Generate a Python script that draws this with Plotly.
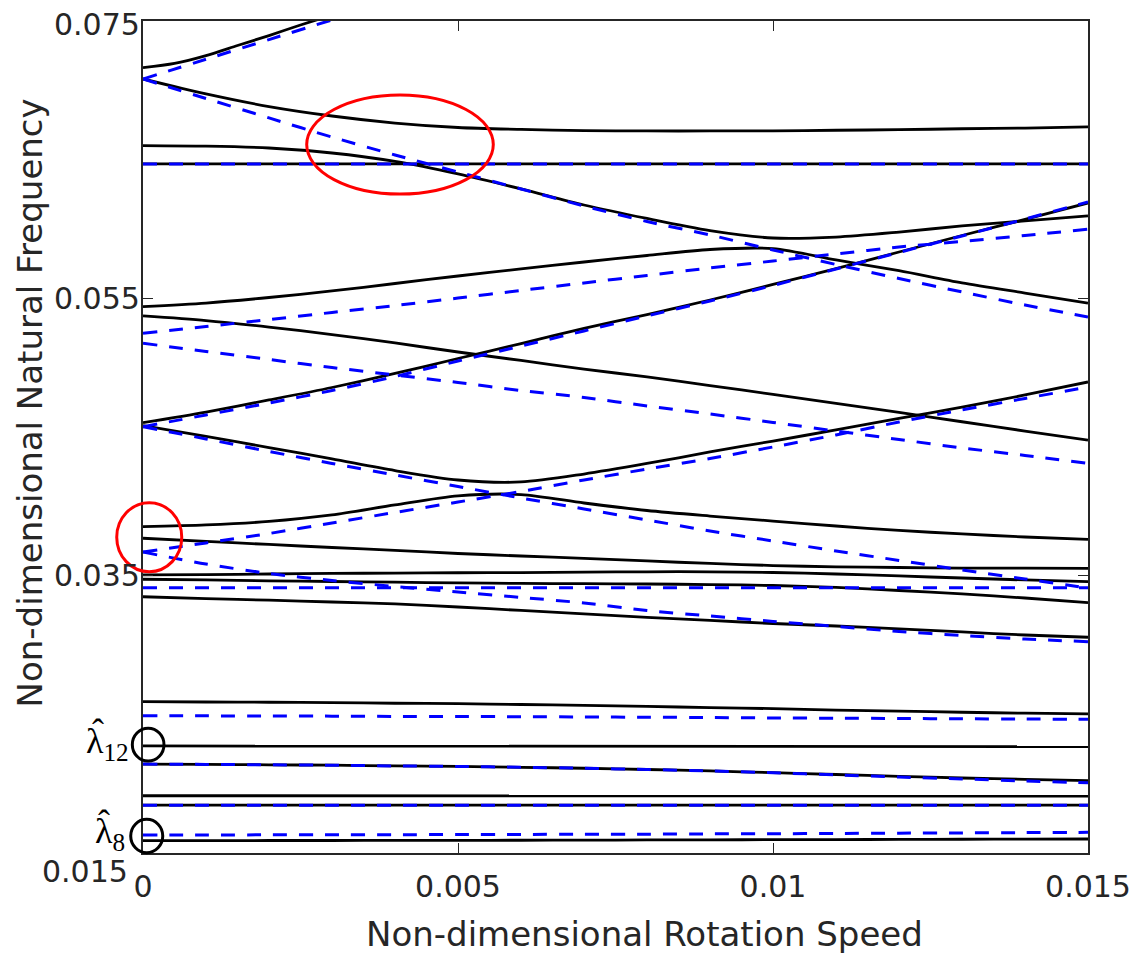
import plotly.graph_objects as go

# Non-dimensional rotation speed samples
speed = [0.0, 0.001, 0.002, 0.003, 0.004, 0.005, 0.006, 0.007, 0.008,
         0.009, 0.010, 0.011, 0.012, 0.013, 0.014, 0.015]
speed_ends = [0.0, 0.015]

# ---- solid branches (natural frequencies, model A) ----
solid_top_x = [0.0, 0.0005, 0.001, 0.0015, 0.002, 0.0025, 0.003]
solid_top = [0.07163, 0.07194, 0.07251, 0.07323, 0.07395, 0.07471, 0.07543]

solid_1 = [0.07082, 0.06974, 0.06883, 0.06815, 0.06764, 0.06732, 0.06718, 0.06710,
           0.06707, 0.06707, 0.06708, 0.06712, 0.06716, 0.06723, 0.06728, 0.06736]
solid_2 = [0.06601, 0.06597, 0.06584, 0.06548, 0.06487, 0.06397, 0.06289, 0.06173,
           0.06076, 0.05989, 0.05935, 0.05942, 0.05978, 0.06022, 0.06058, 0.06094]
solid_flat_1 = [0.06469, 0.06469]
solid_3 = [0.05440, 0.05466, 0.05506, 0.05553, 0.05607, 0.05661, 0.05712, 0.05762,
           0.05809, 0.05852, 0.05859, 0.05777, 0.05699, 0.05611, 0.05538, 0.05466]
solid_4 = [0.05373, 0.05340, 0.05293, 0.05239, 0.05178, 0.05113, 0.05052, 0.04990,
           0.04933, 0.04871, 0.04807, 0.04742, 0.04677, 0.04610, 0.04543, 0.04478]
solid_5 = [0.04603, 0.04680, 0.04767, 0.04857, 0.04958, 0.05066, 0.05174, 0.05283,
           0.05383, 0.05488, 0.05600, 0.05715, 0.05834, 0.05953, 0.06069, 0.06188]
solid_6 = [0.04582, 0.04504, 0.04424, 0.04342, 0.04258, 0.04190, 0.04176, 0.04233,
           0.04309, 0.04392, 0.04471, 0.04551, 0.04634, 0.04716, 0.04803, 0.04897]
solid_7 = [0.03853, 0.03866, 0.03891, 0.03938, 0.04010, 0.04075, 0.04085, 0.04024,
           0.03970, 0.03930, 0.03894, 0.03858, 0.03826, 0.03801, 0.03779, 0.03762]
solid_8 = [0.03770, 0.03747, 0.03725, 0.03703, 0.03682, 0.03660, 0.03642, 0.03624,
           0.03606, 0.03588, 0.03573, 0.03564, 0.03559, 0.03555, 0.03554, 0.03553]
solid_9 = [0.03505, 0.03508, 0.03512, 0.03516, 0.03519, 0.03521, 0.03522, 0.03525,
           0.03528, 0.03528, 0.03523, 0.03512, 0.03498, 0.03483, 0.03469, 0.03457]
solid_10 = [0.03474, 0.03469, 0.03463, 0.03458, 0.03453, 0.03448, 0.03444, 0.03442,
            0.03440, 0.03436, 0.03429, 0.03415, 0.03393, 0.03368, 0.03339, 0.03305]
solid_11 = [0.03348, 0.03335, 0.03323, 0.03310, 0.03296, 0.03274, 0.03249, 0.03224,
            0.03199, 0.03177, 0.03155, 0.03137, 0.03116, 0.03094, 0.03072, 0.03056]
solid_12 = [0.02591, 0.02589, 0.02587, 0.02584, 0.02580, 0.02577, 0.02571, 0.02565,
            0.02557, 0.02549, 0.02541, 0.02531, 0.02523, 0.02515, 0.02508, 0.02503]
solid_13 = [0.02272, 0.02267]
solid_14 = [0.02141, 0.02139, 0.02136, 0.02133, 0.02128, 0.02124, 0.02118, 0.02111,
            0.02102, 0.02092, 0.02079, 0.02066, 0.02053, 0.02041, 0.02031, 0.02022]
solid_15 = [0.01913, 0.01911]
solid_16 = [0.01845, 0.01845]
solid_17 = [0.01589, 0.01589, 0.01590, 0.01590, 0.01591, 0.01591, 0.01592, 0.01593,
            0.01594, 0.01595, 0.01596, 0.01597, 0.01598, 0.01599, 0.01600, 0.01601]

# ---- dashed branches (natural frequencies, model B) ----
dashed_top_x = [0.0, 0.001, 0.002, 0.003, 0.004]
dashed_top = [0.07082, 0.07224, 0.07366, 0.07508, 0.07650]

dashed_1 = [0.07082, 0.06941, 0.06801, 0.06663, 0.06534, 0.06411, 0.06289, 0.06166,
            0.06054, 0.05957, 0.05849, 0.05744, 0.05643, 0.05546, 0.05452, 0.05365]
dashed_flat_1 = [0.06469, 0.06469]
dashed_2 = [0.05248, 0.05297, 0.05347, 0.05398, 0.05448, 0.05502, 0.05557, 0.05611,
            0.05665, 0.05719, 0.05769, 0.05820, 0.05870, 0.05910, 0.05953, 0.05998]
dashed_3 = [0.05176, 0.05117, 0.05059, 0.05001, 0.04947, 0.04893, 0.04835, 0.04785,
            0.04724, 0.04666, 0.04605, 0.04543, 0.04482, 0.04421, 0.04367, 0.04310]
dashed_4 = [0.04574, 0.04659, 0.04745, 0.04835, 0.04936, 0.05048, 0.05156, 0.05265,
            0.05373, 0.05481, 0.05593, 0.05712, 0.05831, 0.05950, 0.06072, 0.06195]
dashed_5 = [0.04574, 0.04486, 0.04396, 0.04309, 0.04226, 0.04143, 0.04060, 0.03981,
            0.03902, 0.03822, 0.03750, 0.03678, 0.03610, 0.03541, 0.03476, 0.03411]
dashed_6 = [0.03670, 0.03736, 0.03804, 0.03880, 0.03956, 0.04031, 0.04107, 0.04190,
            0.04269, 0.04345, 0.04428, 0.04515, 0.04608, 0.04695, 0.04778, 0.04861]
dashed_7 = [0.03670, 0.03584, 0.03516, 0.03465, 0.03422, 0.03382, 0.03343, 0.03303,
            0.03249, 0.03209, 0.03170, 0.03134, 0.03097, 0.03069, 0.03043, 0.03024]
dashed_8 = [0.03413, 0.03413]
dashed_9 = [0.02490, 0.02489, 0.02488, 0.02487, 0.02485, 0.02484, 0.02483, 0.02481,
            0.02479, 0.02477, 0.02474, 0.02472, 0.02470, 0.02468, 0.02466, 0.02464]
dashed_10 = [0.02141, 0.02139, 0.02136, 0.02133, 0.02128, 0.02124, 0.02118, 0.02111,
             0.02102, 0.02092, 0.02079, 0.02063, 0.02048, 0.02034, 0.02019, 0.02007]
dashed_11 = [0.01845, 0.01845]
dashed_12 = [0.01630, 0.01630, 0.01631, 0.01631, 0.01632, 0.01633, 0.01634, 0.01635,
             0.01636, 0.01638, 0.01639, 0.01641, 0.01643, 0.01645, 0.01647, 0.01649]

x_tick_vals = [0, 0.005, 0.01, 0.015]
x_tick_text = ["0", "0.005", "0.01", "0.015"]
y_tick_vals = [0.015, 0.035, 0.055, 0.075]
y_tick_text = ["0.015", "0.035", "0.055", "0.075"]

solid_curves = [
    (solid_top_x, solid_top), (speed, solid_1), (speed, solid_2),
    (speed_ends, solid_flat_1), (speed, solid_3), (speed, solid_4),
    (speed, solid_5), (speed, solid_6), (speed, solid_7), (speed, solid_8),
    (speed, solid_9), (speed, solid_10), (speed, solid_11), (speed, solid_12),
    (speed_ends, solid_13), (speed, solid_14), (speed_ends, solid_15),
    (speed_ends, solid_16), (speed, solid_17),
]
dashed_curves = [
    (dashed_top_x, dashed_top), (speed, dashed_1), (speed_ends, dashed_flat_1),
    (speed, dashed_2), (speed, dashed_3), (speed, dashed_4), (speed, dashed_5),
    (speed, dashed_6), (speed, dashed_7), (speed_ends, dashed_8), (speed, dashed_9),
    (speed, dashed_10), (speed_ends, dashed_11), (speed, dashed_12),
]

fig = go.Figure()
for xs, ys in solid_curves:
    fig.add_trace(go.Scatter(
        x=xs, y=ys, mode="lines",
        line=dict(color="black", width=2.8, shape="spline", smoothing=0.8),
        hoverinfo="skip", showlegend=False))
for xs, ys in dashed_curves:
    fig.add_trace(go.Scatter(
        x=xs, y=ys, mode="lines",
        line=dict(color="#0000ff", width=3, dash="14px,12px",
                  shape="spline", smoothing=0.8),
        hoverinfo="skip", showlegend=False))

axis_font = dict(family="DejaVu Sans", size=30, color="#262626")
title_font = dict(family="DejaVu Sans", size=34, color="#262626")
lam_font = dict(family="Liberation Serif, Times New Roman, serif", size=36, color="black")

annotations = [
    dict(text="Non-dimensional Rotation Speed", xref="paper", yref="paper",
         x=0.5307, y=-0.0974, xanchor="center", yanchor="middle",
         showarrow=False, font=title_font),
    dict(text="Non-dimensional Natural Frequency", xref="paper", yref="paper",
         x=-0.1196, y=0.5415, xanchor="center", yanchor="middle",
         textangle=-90, showarrow=False, font=title_font),
    # labelled branches at zero speed
    dict(text="λ<sub>12</sub>", xref="paper", yref="paper",
         x=-0.0127, y=0.1320, xanchor="right", yanchor="middle",
         showarrow=False, font=lam_font),
    dict(text="ˆ", xref="paper", yref="paper",
         x=-0.0476, y=0.1450, xanchor="center", yanchor="middle",
         showarrow=False, font=lam_font),
    dict(text="λ<sub>8</sub>", xref="paper", yref="paper",
         x=-0.0169, y=0.0230, xanchor="right", yanchor="middle",
         showarrow=False, font=lam_font),
    dict(text="ˆ", xref="paper", yref="paper",
         x=-0.0413, y=0.0360, xanchor="center", yanchor="middle",
         showarrow=False, font=lam_font),
]
# frequency tick labels; the lowest one sits below and left of its tick
y_label_shift = {0.015: (-13, -18), 0.075: (-1, -3)}
for val, txt in zip(y_tick_vals, y_tick_text):
    dx, dy = y_label_shift.get(val, (-1, 0))
    annotations.append(dict(
        text=txt, xref="paper", yref="y", x=0, y=val,
        xanchor="right", yanchor="middle", xshift=dx, yshift=dy,
        showarrow=False, font=axis_font))

fig.update_layout(
    width=1144, height=953,
    margin=dict(l=143, r=56, t=21, b=100, pad=0),
    paper_bgcolor="white", plot_bgcolor="white",
    xaxis=dict(range=[0, 0.015], tickvals=x_tick_vals, ticktext=x_tick_text,
               ticks="inside", ticklen=10, tickwidth=1.3, tickcolor="#262626",
               showline=True, linecolor="#262626", linewidth=1.5, mirror="ticks",
               showgrid=False, zeroline=False, tickfont=axis_font,
               ticklabelstandoff=6, automargin=False),
    yaxis=dict(range=[0.015, 0.075], tickvals=y_tick_vals,
               showticklabels=False,
               ticks="inside", ticklen=10, tickwidth=1.3, tickcolor="#262626",
               showline=True, linecolor="#262626", linewidth=1.5, mirror="ticks",
               showgrid=False, zeroline=False, automargin=False),
    annotations=annotations,
    shapes=[
        # veering regions
        dict(type="circle", xref="x", yref="y",
             x0=0.0025984, x1=0.0055603, y0=0.06252, y1=0.06966,
             line=dict(color="#ff0000", width=3)),
        dict(type="circle", xref="x domain", yref="y domain",
             x0=-0.0278, x1=0.0410, y0=0.3381, y1=0.4210,
             line=dict(color="#ff0000", width=3)),
        # markers for the labelled branches at zero speed
        dict(type="circle", xref="x domain", yref="y domain",
             x0=-0.0113, x1=0.0222, y0=0.1106, y1=0.1499,
             line=dict(color="black", width=3)),
        dict(type="circle", xref="x domain", yref="y domain",
             x0=-0.0130, x1=0.0209, y0=0.0004, y1=0.0405,
             line=dict(color="black", width=3)),
    ],
)

fig.write_html("out.html")
